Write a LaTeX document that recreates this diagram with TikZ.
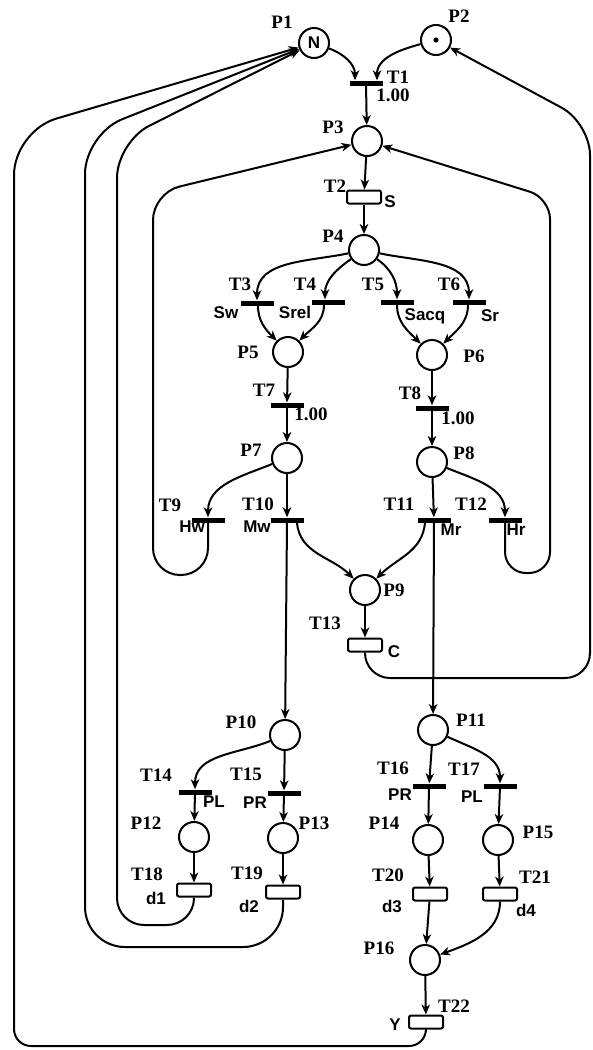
\documentclass[tikz,border=0pt]{standalone}
\usepackage{fontspec}
\setmainfont{Liberation Serif}
\setsansfont{Liberation Sans}
\usetikzlibrary{arrows.meta, positioning}

\begin{document}
\begin{tikzpicture}[
  x=1pt, y=-1pt,
  place/.style={circle, draw, line width=2pt, minimum size=30pt, inner sep=0pt},
  trans/.style={fill=black, minimum width=33pt, minimum height=5pt, inner sep=0pt},
  timed/.style={draw, rounded corners=2pt, line width=2pt, minimum width=34pt, minimum height=13pt, inner sep=0pt},
  lbl/.style={font=\fontsize{19}{19}\selectfont\bfseries, inner sep=0pt},
  txt/.style={font=\fontsize{17}{17}\selectfont\sffamily\bfseries, inner sep=0pt},
  arrow/.style={-{Stealth[length=10pt, width=8.5pt, inset=3pt]}, line width=2pt}
]
  \useasboundingbox (0,0) rectangle (593,1050);

  % places
  \node[place, txt] (p1) at (314,43) {N};
  \node[place] (p2) at (436,40) {};
  \fill (p2.center) circle (2.6pt);
  \node[place] (p3) at (367,141) {};
  \node[place] (p4) at (364,250) {};
  \node[place] (p5) at (288,352) {};
  \node[place] (p6) at (432,355) {};
  \node[place] (p7) at (287,458) {};
  \node[place] (p8) at (432,462) {};
  \node[place] (p9) at (365,590) {};
  \node[place] (p10) at (285,735) {};
  \node[place] (p11) at (433,730) {};
  \node[place] (p12) at (194,837) {};
  \node[place] (p13) at (283,838) {};
  \node[place] (p14) at (428,840) {};
  \node[place] (p15) at (498,840) {};
  \node[place] (p16) at (425,960) {};

  % immediate transitions
  \node[trans] (t1) at (366,83) {};
  \node[trans] (t3) at (257,303) {};
  \node[trans] (t4) at (328,302) {};
  \node[trans] (t5) at (397,302) {};
  \node[trans] (t6) at (469,302) {};
  \node[trans] (t7) at (287,405) {};
  \node[trans] (t8) at (432,408) {};
  \node[trans] (t9) at (208,520) {};
  \node[trans] (t10) at (287,520) {};
  \node[trans] (t11) at (434,520) {};
  \node[trans] (t12) at (505,520) {};
  \node[trans] (t14) at (195,792) {};
  \node[trans] (t15) at (284,793) {};
  \node[trans] (t16) at (429,786) {};
  \node[trans] (t17) at (500,786) {};

  % timed transitions
  \node[timed] (t2) at (364,197) {};
  \node[timed] (t13) at (365,645) {};
  \node[timed] (t18) at (194,890) {};
  \node[timed] (t19) at (283,892) {};
  \node[timed] (t20) at (430,894) {};
  \node[timed] (t21) at (500,894) {};
  \node[timed] (t22) at (426,1022) {};

  % names of places
  \node[lbl] (lp1) at ([shift={(-32,-21)}]p1) {P1};
  \node[lbl] (lp2) at ([shift={(23,-24)}]p2) {P2};
  \node[lbl] (lp3) at ([shift={(-34,-14)}]p3) {P3};
  \node[lbl] (lp4) at ([shift={(-31,-14)}]p4) {P4};
  \node[lbl] (lp5) at ([shift={(-40,0)}]p5) {P5};
  \node[lbl] (lp6) at ([shift={(42,1)}]p6) {P6};
  \node[lbl] (lp7) at ([shift={(-36,-8)}]p7) {P7};
  \node[lbl] (lp8) at ([shift={(32,-9)}]p8) {P8};
  \node[lbl] (lp9) at ([shift={(29,0)}]p9) {P9};
  \node[lbl] (lp10) at ([shift={(-44,-13)}]p10) {P10};
  \node[lbl] (lp11) at ([shift={(38,-10)}]p11) {P11};
  \node[lbl] (lp12) at ([shift={(-48,-14)}]p12) {P12};
  \node[lbl] (lp13) at ([shift={(31,-15)}]p13) {P13};
  \node[lbl] (lp14) at ([shift={(-44,-17)}]p14) {P14};
  \node[lbl] (lp15) at ([shift={(40,-8)}]p15) {P15};
  \node[lbl] (lp16) at ([shift={(-46,-12)}]p16) {P16};

  % names and rates of transitions
  \node[lbl] (lt1) at ([shift={(32,-6)}]t1) {T1};
  \node[lbl] (rt1) at ([shift={(27,12)}]t1) {1.00};
  \node[lbl] (lt2) at ([shift={(-29,-11)}]t2) {T2};
  \node[txt] (rt2) at ([shift={(26,5)}]t2) {S};
  \node[lbl] (lt3) at ([shift={(-17,-19)}]t3) {T3};
  \node[txt] (rt3) at ([shift={(-31,10)}]t3) {Sw};
  \node[lbl] (lt4) at ([shift={(-23,-18)}]t4) {T4};
  \node[txt] (rt4) at ([shift={(-33,10)}]t4) {Srel};
  \node[lbl] (lt5) at ([shift={(-24,-18)}]t5) {T5};
  \node[txt] (rt5) at ([shift={(28,14)}]t5) {Sacq};
  \node[lbl] (lt6) at ([shift={(-20,-18)}]t6) {T6};
  \node[txt] (rt6) at ([shift={(21,14)}]t6) {Sr};
  \node[lbl] (lt7) at ([shift={(-23,-15)}]t7) {T7};
  \node[lbl] (rt7) at ([shift={(24,9)}]t7) {1.00};
  \node[lbl] (lt8) at ([shift={(-22,-15)}]t8) {T8};
  \node[lbl] (rt8) at ([shift={(26,10)}]t8) {1.00};
  \node[lbl] (lt9) at ([shift={(-38,-15)}]t9) {T9};
  \node[txt] (rt9) at ([shift={(-16,7)}]t9) {Hw};
  \node[lbl] (lt10) at ([shift={(-29,-16)}]t10) {T10};
  \node[txt] (rt10) at ([shift={(-30,7)}]t10) {Mw};
  \node[lbl] (lt11) at ([shift={(-35,-16)}]t11) {T11};
  \node[txt] (rt11) at ([shift={(17,10)}]t11) {Mr};
  \node[lbl] (lt12) at ([shift={(-34,-16)}]t12) {T12};
  \node[txt] (rt12) at ([shift={(11,10)}]t12) {Hr};
  \node[lbl] (lt13) at ([shift={(-40,-22)}]t13) {T13};
  \node[txt] (rt13) at ([shift={(29,7)}]t13) {C};
  \node[lbl] (lt14) at ([shift={(-39,-17)}]t14) {T14};
  \node[txt] (rt14) at ([shift={(19,10)}]t14) {PL};
  \node[lbl] (lt15) at ([shift={(-38,-19)}]t15) {T15};
  \node[txt] (rt15) at ([shift={(-29,10)}]t15) {PR};
  \node[lbl] (lt16) at ([shift={(-36,-18)}]t16) {T16};
  \node[txt] (rt16) at ([shift={(-29,9)}]t16) {PR};
  \node[lbl] (lt17) at ([shift={(-36,-17)}]t17) {T17};
  \node[txt] (rt17) at ([shift={(-28,11)}]t17) {PL};
  \node[lbl] (lt18) at ([shift={(-47,-16)}]t18) {T18};
  \node[txt] (rt18) at ([shift={(-38,8)}]t18) {d1};
  \node[lbl] (lt19) at ([shift={(-36,-19)}]t19) {T19};
  \node[txt] (rt19) at ([shift={(-34,14)}]t19) {d2};
  \node[lbl] (lt20) at ([shift={(-42,-19)}]t20) {T20};
  \node[txt] (rt20) at ([shift={(-38,12)}]t20) {d3};
  \node[lbl] (lt21) at ([shift={(35,-17)}]t21) {T21};
  \node[txt] (rt21) at ([shift={(26,16)}]t21) {d4};
  \node[lbl] (lt22) at ([shift={(28,-16)}]t22) {T22};
  \node[txt] (rt22) at ([shift={(-31,3)}]t22) {Y};

  % arcs, top part
  \draw[arrow] (p1) to[out=-20, in=90] ([xshift=-11]t1.north);
  \draw[arrow] (p2) to[out=195, in=90] ([xshift=11]t1.north);
  \draw[arrow] (t1) -- (p3);
  \draw[arrow] (p3) -- (t2);
  \draw[arrow] (t2) -- (p4);
  \draw[arrow] (p4) to[out=192, in=90] (t3.north);
  \draw[arrow] (p4) to[out=215, in=90] ([xshift=-3]t4.north);
  \draw[arrow] (p4) to[out=-35, in=90] (t5.north);
  \draw[arrow] (p4) to[out=-12, in=90] (t6.north);
  \draw[arrow] ([xshift=1]t3.south) to[out=-90, in=135] (p5);
  \draw[arrow] ([xshift=-4]t4.south) to[out=-90, in=45] (p5);
  \draw[arrow] (t5.south) to[out=-90, in=135] (p6);
  \draw[arrow] ([xshift=-1]t6.south) to[out=-90, in=45] (p6);
  \draw[arrow] (p5) -- (t7);
  \draw[arrow] (t7) -- (p7);
  \draw[arrow] (p6) -- (t8);
  \draw[arrow] (t8) -- (p8);

  % arcs, middle part
  \draw[arrow] (p7) to[out=202, in=90] (t9.north);
  \draw[arrow] (p7) -- (t10);
  \draw[arrow] (p8) -- (t11);
  \draw[arrow] (p8) to[out=-22, in=90] (t12.north);
  \draw[arrow] ([xshift=10]t10.south) to[out=-85, in=135] (p9);
  \draw[arrow] ([xshift=-9]t11.south) to[out=-95, in=45] (p9);
  \draw[arrow] (p9) -- (t13);
  \draw[arrow] (t10.south) -- (p10);
  \draw[arrow] (t11.south) -- (p11);

  % arcs, bottom part
  \draw[arrow] (p10) to[out=202, in=90] (t14.north);
  \draw[arrow] (p10) -- (t15);
  \draw[arrow] (p11) -- (t16);
  \draw[arrow] (p11) to[out=-25, in=90] (t17.north);
  \draw[arrow] (t14) -- (p12);
  \draw[arrow] (t15) -- (p13);
  \draw[arrow] (t16) -- (p14);
  \draw[arrow] (t17) -- (p15);
  \draw[arrow] (p12) -- (t18);
  \draw[arrow] (p13) -- (t19);
  \draw[arrow] (p14) -- (t20);
  \draw[arrow] (p15) -- (t21);
  \draw[arrow] (t20) -- (p16);
  \draw[arrow] (t21.south) to[out=-90, in=20] (p16);
  \draw[arrow] (p16) -- (t22);

  % return arcs
  \draw[arrow, rounded corners=27pt] (t9.south) |- (153,575) -- (153,193) -- (p3);
  \draw[arrow, rounded corners=21pt] (t12.south) |- (550,573) -- (550,198) -- (p3);
  \draw[arrow, rounded corners=25pt] (t13.south) |- (590,678) [rounded corners=32pt] -- (590,123) -- (p2);
  \draw[arrow, rounded corners=27pt] (t18.south) |- (117,925) [rounded corners=36pt] -- (117,142) -- (p1);
  \draw[arrow, rounded corners=40pt] (t19.south) |- (85,947) -- (85,134) -- (p1);
  \draw[arrow, rounded corners=17pt] (t22.south) |- (14,1046) [rounded corners=44pt] -- (14,131) -- (p1);
\end{tikzpicture}
\end{document}
